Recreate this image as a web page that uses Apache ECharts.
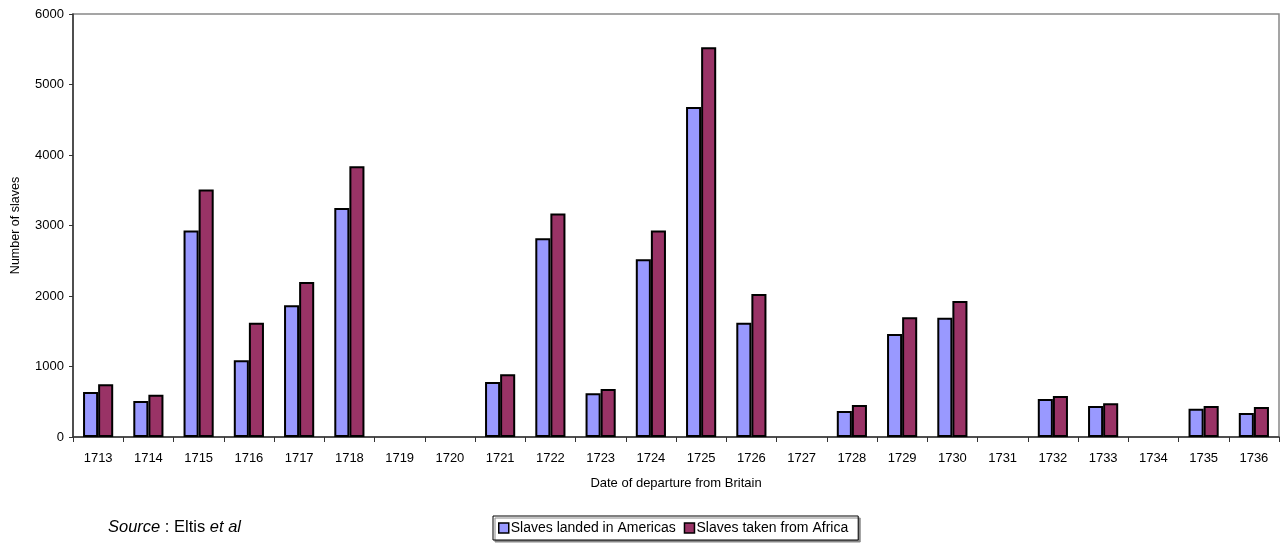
<!DOCTYPE html>
<html>
<head>
<meta charset="utf-8">
<script src="https://cdn.jsdelivr.net/npm/echarts@6/dist/echarts.min.js"></script>
<style>
  html, body { margin: 0; padding: 0; background: #fff; }
  #chart { width: 1288px; height: 545px; }
</style>
</head>
<body>
<div id="chart"></div>
<script>
// Years of departure from Britain
const years = ['1713','1714','1715','1716','1717','1718','1719','1720','1721','1722','1723','1724',
               '1725','1726','1727','1728','1729','1730','1731','1732','1733','1734','1735','1736'];

// Slaves landed in the Americas, per year
const landedInAmericas = [640, 510, 2930, 1090, 1870, 3250, 0, 0, 780, 2820, 620, 2520,
                          4680, 1620, 0, 370, 1460, 1690, 0, 540, 440, 0, 400, 340];

// Slaves taken from Africa, per year
const takenFromAfrica = [750, 600, 3510, 1620, 2200, 3840, 0, 0, 890, 3170, 680, 2930,
                         5530, 2030, 0, 455, 1700, 1930, 0, 580, 480, 0, 440, 425];

const yTicks = { min: 0, max: 6000, interval: 1000 };

const font = 'Liberation Sans, Arial, sans-serif';
const chart = echarts.init(document.getElementById('chart'), null, { renderer: 'canvas' });

// years with no voyages leave an empty slot rather than a flat outlined bar
const asBars = (values) => values.map(v => (v === 0 ? '-' : v));

const barStyle = (color) => ({
  color: color,
  borderColor: '#000',
  borderWidth: 2
});

chart.setOption({
  animation: false,
  backgroundColor: '#fff',
  textStyle: { fontFamily: font },
  grid: {
    left: 73, right: 9, top: 14, bottom: 108,
    containLabel: false,
    outerBoundsMode: 'none',
    show: true,
    borderColor: '#888',
    borderWidth: 1.5,
    backgroundColor: 'transparent'
  },
  legend: {
    data: ['Slaves landed in Americas', 'Slaves taken from Africa'],
    left: 493,
    top: 516,
    orient: 'horizontal',
    itemWidth: 10,
    itemHeight: 10,
    itemGap: 8,
    padding: [5, 10, 5, 5],
    backgroundColor: '#fff',
    borderColor: '#000',
    borderWidth: 1,
    shadowColor: '#888',
    shadowOffsetX: 2,
    shadowOffsetY: 2,
    shadowBlur: 0,
    icon: 'rect',
    itemStyle: { borderColor: '#000', borderWidth: 1.5 },
    textStyle: { fontSize: 14, color: '#000', fontFamily: font, padding: [0, 0, 0, -3] }
  },
  xAxis: {
    type: 'category',
    data: years,
    boundaryGap: true,
    name: 'Date of departure from Britain',
    nameLocation: 'middle',
    nameGap: 40,
    nameTextStyle: { fontSize: 13, color: '#000' },
    axisLine: { lineStyle: { color: '#333', width: 1.5 } },
    axisTick: { show: true, alignWithLabel: false, length: 5, lineStyle: { color: '#333' } },
    axisLabel: { fontSize: 13, color: '#000', margin: 15, interval: 0 },
    splitLine: { show: false }
  },
  yAxis: {
    type: 'value',
    min: yTicks.min,
    max: yTicks.max,
    interval: yTicks.interval,
    name: 'Number of slaves',
    nameLocation: 'middle',
    nameGap: 51,
    nameRotate: 90,
    nameTextStyle: { fontSize: 12.5, color: '#000' },
    axisLine: { show: true, lineStyle: { color: '#333', width: 1.5 } },
    axisTick: { show: true, inside: false, length: 4, lineStyle: { color: '#333' } },
    axisLabel: { fontSize: 13, color: '#000', margin: 9, formatter: (v) => String(v) },
    splitLine: { show: false }
  },
  series: [
    {
      name: 'Slaves landed in Americas',
      type: 'bar',
      data: asBars(landedInAmericas),
      barGap: '0%',
      barCategoryGap: '40%',
      itemStyle: barStyle('#9999FF')
    },
    {
      name: 'Slaves taken from Africa',
      type: 'bar',
      data: asBars(takenFromAfrica),
      barGap: '0%',
      barCategoryGap: '40%',
      itemStyle: barStyle('#993366')
    }
  ],
  graphic: [
    {
      type: 'text',
      left: 108,
      top: 519,
      style: {
        text: '{i|Source} : Eltis {i|et al}',
        fontSize: 16.5,
        fontFamily: font,
        fill: '#000',
        rich: {
          i: { fontStyle: 'italic', fontSize: 16.5, fontFamily: font }
        }
      }
    }
  ]
});
</script>
</body>
</html>
